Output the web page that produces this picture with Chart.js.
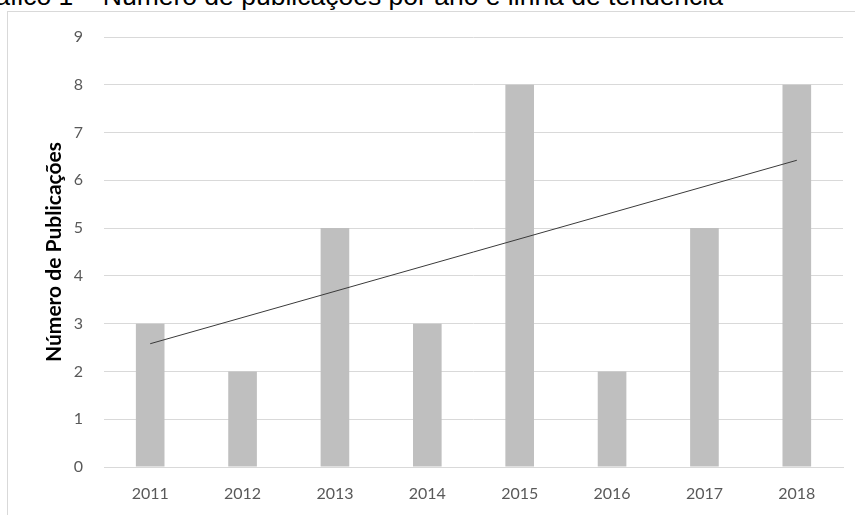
<!DOCTYPE html>
<html>
<head>
<meta charset="utf-8">
<script src="https://cdn.jsdelivr.net/npm/chart.js@4/dist/chart.umd.min.js"></script>
<style>
  html, body { margin: 0; padding: 0; background: #fff; overflow: hidden; }
  body { width: 855px; height: 515px; position: relative; }
  #frame {
    position: absolute; left: 7px; top: 11px; width: 900px; height: 600px;
    border-left: 1px solid #d9d9d9; border-top: 1px solid #d9d9d9;
  }
  #caption {
    position: absolute; right: 132px; top: -17px; white-space: nowrap;
    font-family: "Liberation Sans", Arial, sans-serif; font-size: 26.5px; line-height: 1; color: #000;
  }
  #chart { position: absolute; left: 0; top: 0; }
</style>
</head>
<body>
<div id="frame"></div>
<div id="caption">Gráfico 1 – Número de publicações por ano e linha de tendência</div>
<canvas id="chart" width="855" height="515"></canvas>
<script>
const years = ["2011", "2012", "2013", "2014", "2015", "2016", "2017", "2018"];
const publicacoes = [3, 2, 5, 3, 8, 2, 5, 8];
// trend line, read at the first and last year
const tendencia = [2.58, null, null, null, null, null, null, 6.42];

const tickFont = { family: "Lato, 'Open Sans', sans-serif", size: 16 };

new Chart(document.getElementById("chart"), {
  data: {
    labels: years,
    datasets: [
      {
        type: "line",
        data: tendencia,
        spanGaps: true,
        borderColor: "#3a3a3a",
        borderWidth: 1,
        pointRadius: 0,
        order: 0
      },
      {
        type: "bar",
        data: publicacoes,
        backgroundColor: "#bfbfbf",
        barPercentage: 0.31,
        categoryPercentage: 1,
        order: 1
      }
    ]
  },
  options: {
    responsive: false,
    animation: false,
    layout: { padding: { top: 37, right: 12, left: 0, bottom: 0 } },
    plugins: { legend: { display: false }, tooltip: { enabled: false } },
    scales: {
      x: {
        offset: true,
        grid: { display: false, drawTicks: false },
        border: { color: "#d9d9d9", width: 1 },
        ticks: { color: "#595959", font: tickFont, padding: 17, maxRotation: 0 },
        afterFit: s => { s.height = 48; }
      },
      y: {
        min: 0,
        max: 9,
        ticks: { stepSize: 1, color: "#595959", font: tickFont, padding: 21 },
        grid: { color: "#d9d9d9", lineWidth: 1, drawTicks: false },
        border: { display: false },
        title: {
          display: true,
          text: "Número de Publicações",
          color: "#000",
          font: { family: "Lato, 'Open Sans', sans-serif", size: 21, weight: "bold" },
          padding: { top: 42, bottom: 0 }
        },
        afterFit: s => { s.width = 104; }
      }
    }
  }
});
</script>
</body>
</html>
